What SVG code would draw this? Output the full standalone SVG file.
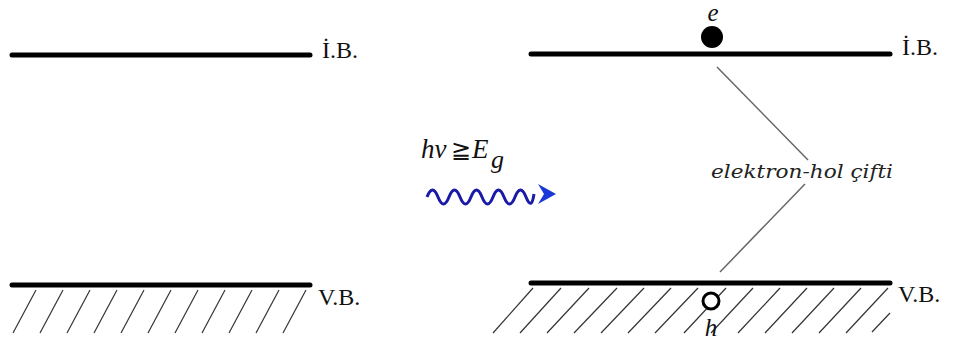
<svg xmlns="http://www.w3.org/2000/svg" width="957" height="342" viewBox="0 0 957 342">
<style>
.band{stroke:#000;stroke-width:5;stroke-linecap:round}
.hatch{stroke:#333;stroke-width:1.2}
.lbl{font-family:"Liberation Serif",serif;font-size:24px;fill:#111}
.it{font-family:"Liberation Serif",serif;font-style:italic;fill:#111}
.lead{stroke:#666;stroke-width:1.5;fill:none}
</style>
<defs>
<g id="hatchL">
<line class="hatch" x1="13" y1="333" x2="36" y2="290"/>
<line class="hatch" x1="40" y1="333" x2="63" y2="290"/>
<line class="hatch" x1="67" y1="333" x2="90" y2="290"/>
<line class="hatch" x1="94" y1="333" x2="117" y2="290"/>
<line class="hatch" x1="121" y1="333" x2="144" y2="290"/>
<line class="hatch" x1="148" y1="333" x2="171" y2="290"/>
<line class="hatch" x1="175" y1="333" x2="198" y2="290"/>
<line class="hatch" x1="202" y1="333" x2="225" y2="290"/>
<line class="hatch" x1="229" y1="333" x2="252" y2="290"/>
<line class="hatch" x1="256" y1="333" x2="279" y2="290"/>
<line class="hatch" x1="283" y1="333" x2="306" y2="290"/>
</g>
</defs>
<rect width="957" height="342" fill="#fff"/>
<g id="left-ib">
<line class="band" x1="12" y1="55" x2="310" y2="55"/>
<text class="lbl" x="322" y="58">İ.B.</text>
</g>
<g id="left-vb">
<use href="#hatchL"/>
<line class="band" x1="12" y1="285" x2="310" y2="285"/>
<text class="lbl" x="318" y="305">V.B.</text>
</g>
<g id="photon">
<text class="it" x="421" y="158" font-size="27">hν</text>
<text class="lbl" x="451" y="158" font-size="24">≧</text>
<text class="it" x="472" y="158" font-size="27">E</text>
<text class="it" x="491" y="168" font-size="26">g</text>
<path d="M427,197 q5.5,-14 11,0 t11,0 t11,0 t11,0 t11,0 t11,0 t11,0 t11,0 t11,0 t8,-3" fill="none" stroke="#1a1aa8" stroke-width="3"/>
<path d="M538,184 L556,194 L538,204 L544,194 Z" fill="#1a3ad8"/>
</g>
<g id="right-ib">
<line class="band" x1="531" y1="54" x2="890" y2="54"/>
<text class="lbl" x="902" y="55">İ.B.</text>
</g>
<g id="electron">
<circle cx="712" cy="37" r="11" fill="#000"/>
<text class="it" x="713" y="21" font-size="25" text-anchor="middle">e</text>
</g>
<g id="right-vb">
<g class="hatch">
<line x1="493" y1="333" x2="533" y2="288"/>
<line x1="520" y1="333" x2="561" y2="288"/>
<line x1="547" y1="333" x2="589" y2="288"/>
<line x1="574" y1="333" x2="617" y2="288"/>
<line x1="601" y1="333" x2="644" y2="288"/>
<line x1="628" y1="333" x2="671" y2="288"/>
<line x1="655" y1="333" x2="698" y2="288"/>
<line x1="684" y1="333" x2="726" y2="288"/>
<line x1="711" y1="333" x2="753" y2="288"/>
<line x1="738" y1="333" x2="780" y2="288"/>
<line x1="765" y1="333" x2="807" y2="288"/>
<line x1="792" y1="333" x2="834" y2="288"/>
<line x1="819" y1="333" x2="861" y2="288"/>
<line x1="846" y1="333" x2="888" y2="288"/>
<line x1="872" y1="332" x2="890" y2="313"/>
</g>
<line class="band" x1="531" y1="283" x2="890" y2="283"/>
<text class="lbl" x="898" y="302">V.B.</text>
</g>
<g id="hole">
<circle cx="711" cy="301" r="8" fill="#fff" stroke="#000" stroke-width="3"/>
<text class="it" x="711" y="336" font-size="25" text-anchor="middle">h</text>
</g>
<g id="pair-label">
<text x="711" y="178" font-family="'DejaVu Serif',serif" font-style="italic" font-size="19" fill="#222" textLength="182" lengthAdjust="spacingAndGlyphs">elektron-hol çifti</text>
</g>
<g id="connectors">
<line class="lead" x1="717" y1="67" x2="808" y2="160"/>
<line class="lead" x1="805" y1="184" x2="720" y2="272"/>
</g>
</svg>
